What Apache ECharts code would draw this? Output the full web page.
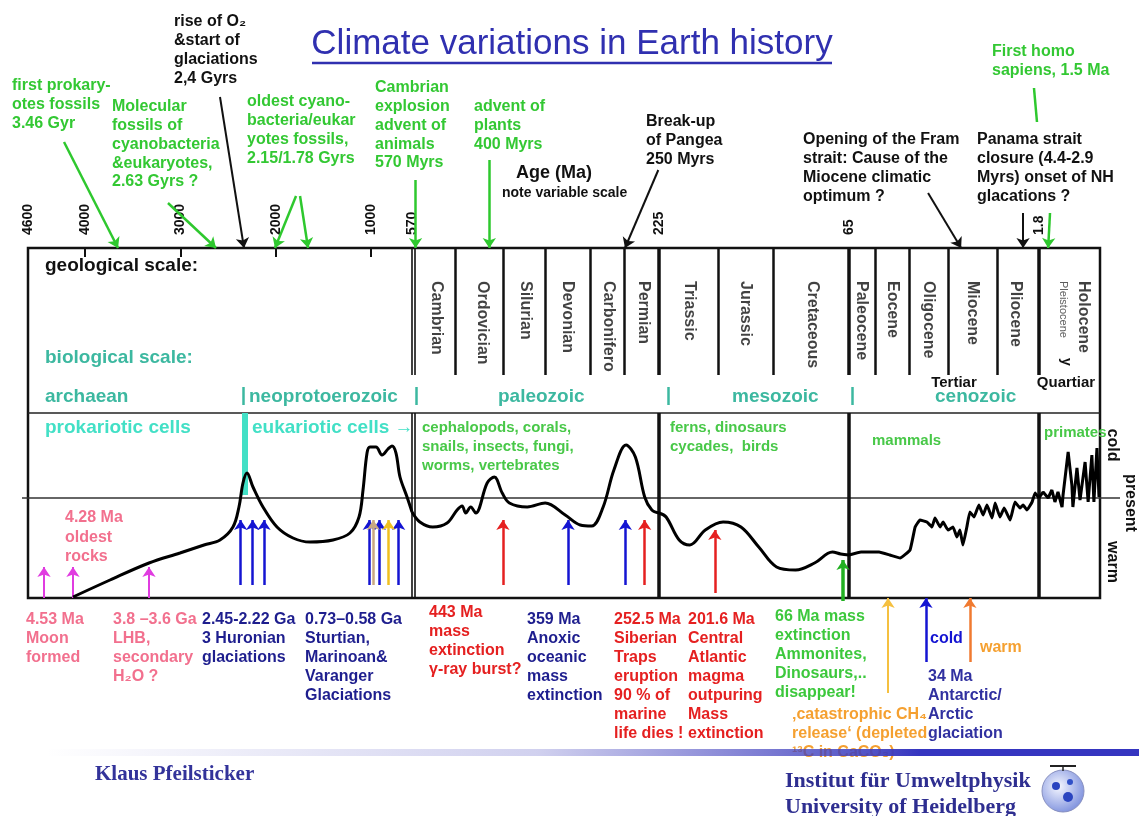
<!DOCTYPE html>
<html>
<head>
<meta charset="utf-8">
<title>Climate variations in Earth history</title>
<script src="https://cdn.jsdelivr.net/npm/echarts@6/dist/echarts.min.js"></script>
<style>
  html, body { margin: 0; padding: 0; background: #fff; }
  #chart { width: 1139px; height: 816px; }
</style>
</head>
<body>
<div id="chart"></div>
<script>
// variable age scale: one linear piece per segment (Ma, oldest -> youngest)
var segAges = [[4600, 570], [570, 225], [225, 65], [65, 1.8], [1.8, 0]];
var segTicks = [[4000, 3000, 2000, 1000], [], [], [], []];
var segTickLabels = [[4600, 4000, 3000, 2000, 1000, 570], [225], [65], [1.8], []];

// climate curve [age Ma, index]  (0 = present, + colder, - warmer)
var curvePrecambrian = [[4128, -9.9], [3739, -8.2], [3330, -6.5], [3005, -5.5], [2753, -4.7], [2585, -4.2],
  [2449, -2.9], [2386, -0.9], [2344, 1.5], [2302, 2.5], [2239, 1.1], [2134, -0.9], [1987, -2.9], [1819, -4.0],
  [1640, -4.4], [1399, -4.2], [1221, -3.5], [1126, -1.9], [1084, 0.8], [1042, 4.5], [1011, 5.1], [948, 5.1],
  [885, 4.3], [822, 4.9], [780, 5.2], [738, 4.5], [696, 2.1], [622, 0.1], [570, -1.4]];
var curvePaleozoic = [[570, -1.4], [559, -2.4], [541, -2.9], [521, -2.5], [507, -1.2], [500, -0.8], [495, -1.5],
  [488, -0.9], [481, -1.5], [465, 1.5], [455, 2.1], [444, 0.5], [434, -0.5], [409, -0.9], [384, -0.5],
  [356, -1.7], [335, -2.7], [319, -2.8], [303, -0.9], [288, 2.8], [271, 5.3], [258, 4.1], [245, 0.1],
  [235, -1.2], [225, -1.5]];
var curveMesozoic = [[225, -1.5], [219, -1.9], [208, -4.2], [199, -4.7], [186, -3.2], [171, -2.4], [156, -2.9],
  [141, -4.9], [126, -6.9], [110, -7.2], [94, -6.5], [79, -5.4], [72, -5.6], [65, -5.7]];
var curveTertiary = [[65, -5.7], [61, -5.4], [55, -5.4], [51.4, -5.7], [48, -6.0], [44.7, -5.2], [43, -2.9],
  [41.4, -2.2], [39.1, -2.4], [37.4, -2.9], [36.4, -2.0], [34.7, -2.9], [33.7, -2.4], [32.1, -3.2], [30.4, -2.9],
  [29.1, -3.9], [28.1, -3.2], [27.1, -4.7], [25.8, -2.9], [24.8, -1.4], [23.4, -1.9], [21.8, -0.7], [20.4, -1.7],
  [19.1, -0.7], [17.4, -2.0], [16.4, -0.5], [14.8, -1.9], [13.4, -1.0], [11.4, -2.2], [9.8, -0.4], [8.1, -1.0],
  [7.1, -0.7], [5.8, -1.2], [4.1, -0.4], [3.1, 0.5], [1.8, 0.0]];
var curveQuaternary = [[1.8, 0.0], [1.68, 0.6], [1.53, 0.0], [1.42, 0.8], [1.33, -0.4], [1.24, 0.6], [1.12, -0.9],
  [1.09, 0.3], [0.94, 4.6], [0.83, 1.3], [0.80, -0.9], [0.68, 3.0], [0.59, -0.2], [0.44, 3.6], [0.35, -0.4],
  [0.24, 4.3], [0.18, -0.4], [0.09, 5.0], [0.03, 0.1]];

// geological periods
var periodNames = ['Cambrian', 'Ordovician', 'Silurian', 'Devonian', 'Carboniferous', 'Permian', 'Triassic',
  'Jurassic', 'Cretaceous', 'Paleocene', 'Eocene', 'Oligocene', 'Miocene', 'Pliocene', 'Pleistocene', 'Holocene'];
var periodMidAges = [536, 472, 412, 353, 296, 247, 199, 152, 96, 61, 50.7, 38.7, 24.1, 9.8, 1.09, 0.5];
var periodBounds = [510, 443, 384, 321, 273, 175, 129, 56.4, 45, 32.1, 15.8];
var doubleBounds = [570, 566];
var thickBounds = [225, 65, 1.8];
var eraBounds = [2344, 564, 217, 64];
var eukaryoteAges = [2323];

// event arrows (Ma)
var moonLhbAges = [4432, 4128, 3330];
var huronianAges = [2368, 2242, 2123];
var snowballBlueAges = [1018, 913, 710];
var snowballTanAges = [976];
var snowballYellowAges = [815];
var paleozoicRedAges = [443, 245];
var paleozoicBlueAges = [352, 272];
var triassicRedAges = [178];
var kpgAges = [70];
var ch4Ages = [52];
var coldAges = [39.4];
var warmAges = [24.8];

// callout arrows from the notes down to the age axis [tail age, tail level, head age, head level]
var calloutsGreen = [[4222, 35.6, 3655, 25], [3131, 29.5, 2627, 25], [1787, 30.2, 2008, 25], [1745, 30.2, 1661, 25],
  [565, 31.8, 565, 25], [462, 33.8, 462, 25], [1.475, 28.5, 1.53, 25]];
var calloutsBlack = [[2585, 40.1, 2333, 25], [226, 32.8, 272.5, 25], [38.7, 30.5, 27.7, 25], [7.1, 28.5, 7.1, 25]];
var homoLine = [[3.47, 41, 2.47, 37.6]];

var FONT = '"Liberation Sans", Arial, sans-serif';
var SERIF = '"Liberation Serif", "Times New Roman", serif';
var GREEN = '#33c833', TEAL = '#3cb8a0', TURQ = '#42e0c6', PINK = '#f2708e', NAVY = '#1e1e8e';
var RED = '#e52020', ORANGE = '#f5a030', BLUE = '#1414d2', MAGENTA = '#e03ce0';

var segLeft = [28, 412, 659, 849, 1039];
var segRight = [412, 659, 849, 1039, 1100];
var curves = [curvePrecambrian, curvePaleozoic, curveMesozoic, curveTertiary, curveQuaternary];
var smoothness = [0.35, 0.35, 0.35, 0.1, false];

function segOf(age) {
  for (var i = 0; i < segAges.length; i++) {
    if (age <= segAges[i][0] && age >= segAges[i][1]) return i;
  }
  return segAges.length - 1;
}

var lines = [[], [], [], [], []];
function addLine(a1, v1, a2, v2, color, width, arrow) {
  lines[segOf(a2)].push([
    { coord: [a1, v1], symbol: 'none' },
    { coord: [a2, v2], symbol: arrow ? 'arrow' : 'none', lineStyle: { color: color, width: width, type: 'solid' } }
  ]);
}
function arrows(ages, from, to, color, width) {
  ages.forEach(function (a) { addLine(a, from, a, to, color, width, true); });
}

var TOP = 25, GEO_BOTTOM = 12.3, ERA_LINE = 8.5, BOTTOM = -10;
periodBounds.forEach(function (a) { addLine(a, TOP, a, GEO_BOTTOM, '#111', 2.5); });
doubleBounds.forEach(function (a) {
  addLine(a, TOP, a, GEO_BOTTOM, '#111', 1.6);
  addLine(a, ERA_LINE, a, BOTTOM, '#111', 1.6);
});
thickBounds.forEach(function (a) {
  addLine(a, TOP, a, GEO_BOTTOM, '#111', 3.5);
  addLine(a, ERA_LINE, a, BOTTOM, '#111', 3.5);
});
eraBounds.forEach(function (a) { addLine(a, 11.1, a, 9.3, TEAL, 2.5); });
eukaryoteAges.forEach(function (a) { addLine(a, ERA_LINE, a, 0.3, TURQ, 6); });

arrows(moonLhbAges, BOTTOM, -6.9, MAGENTA, 2);
arrows(huronianAges, -8.7, -2.2, BLUE, 2.5);
arrows(snowballBlueAges, -8.7, -2.2, BLUE, 2.5);
arrows(snowballTanAges, -8.7, -2.2, '#c8a882', 2.5);
arrows(snowballYellowAges, -8.7, -2.2, '#f0c020', 2.5);
arrows(paleozoicRedAges, -8.7, -2.2, RED, 2.5);
arrows(paleozoicBlueAges, -8.7, -2.2, BLUE, 2.5);
arrows(triassicRedAges, -9.5, -3.2, RED, 2.5);
arrows(kpgAges, -10.3, -6.2, '#22b022', 3.5);
arrows(ch4Ages, -19.5, BOTTOM, '#f5c040', 2);
arrows(coldAges, -16.4, BOTTOM, BLUE, 2.5);
arrows(warmAges, -16.4, BOTTOM, '#f07a30', 2.5);

calloutsGreen.forEach(function (c) { addLine(c[0], c[1], c[2], c[3], '#2ec82e', 2.5, true); });
calloutsBlack.forEach(function (c) { addLine(c[0], c[1], c[2], c[3], '#111', 2, true); });
homoLine.forEach(function (c) { addLine(c[0], c[1], c[2], c[3], '#2ec82e', 2.5, false); });

var grids = [], xAxes = [], yAxes = [], series = [];
var n = segAges.length;
// grids 0..4 carry the age axis on top of the frame
for (var i = 0; i < n; i++) {
  grids.push({ left: segLeft[i], width: segRight[i] - segLeft[i], top: 248, height: 350, outerBoundsMode: 'none' });
  xAxes.push({
    gridIndex: i, type: 'value', inverse: true, position: 'top',
    min: segAges[i][1], max: segAges[i][0],
    axisLine: { show: false, onZero: false }, splitLine: { show: false },
    axisTick: { show: segTicks[i].length > 0, inside: true, length: 9, customValues: segTicks[i],
      lineStyle: { color: '#111', width: 2 } },
    axisLabel: { show: segTickLabels[i].length > 0, customValues: segTickLabels[i], rotate: -90, margin: 13,
      fontSize: 14, fontWeight: 'bold', color: '#111', fontFamily: FONT,
      formatter: function (v) { return String(v); } }
  });
  yAxes.push({ gridIndex: i, type: 'value', min: 0, max: 1, show: false });
}
// grids 5..9 hold the data over the full height (10 px per index unit, 0 = present line)
for (var j = 0; j < n; j++) {
  var g = n + j;
  grids.push({ left: segLeft[j], width: segRight[j] - segLeft[j], top: 0, height: 708, outerBoundsMode: 'none' });
  xAxes.push({ gridIndex: g, type: 'value', inverse: true, min: segAges[j][1], max: segAges[j][0], show: false });
  yAxes.push({ gridIndex: g, type: 'value', min: -21, max: 49.8, show: false });
  series.push({
    type: 'line', xAxisIndex: g, yAxisIndex: g, data: curves[j], showSymbol: false,
    smooth: smoothness[j], clip: false, z: 5,
    lineStyle: { color: '#000', width: 3 },
    markLine: { silent: true, symbol: ['none', 'arrow'], symbolSize: 10, label: { show: false },
      lineStyle: { type: 'solid' }, animation: false, data: lines[j] }
  });
  var labels = [];
  periodNames.forEach(function (name, k) {
    if (segOf(periodMidAges[k]) !== j) return;
    var item = { value: [periodMidAges[k], 21.7], name: name };
    if (name === 'Pleistocene') item.label = { fontSize: 11, fontWeight: 'normal', color: '#333' };
    labels.push(item);
  });
  series.push({
    type: 'scatter', xAxisIndex: g, yAxisIndex: g, data: labels, symbolSize: 1, clip: false, silent: true,
    itemStyle: { color: 'rgba(0,0,0,0)' },
    label: { show: true, position: 'inside', rotate: -90, align: 'left', verticalAlign: 'middle',
      formatter: '{b}', fontSize: 16, fontWeight: 'bold', color: '#111', fontFamily: FONT,
      width: 96, overflow: 'truncate', ellipsis: '' }
  });
}

function note(x, y, text, color, size, opt) {
  opt = opt || {};
  var lh = opt.lh || 18.7;
  return {
    type: 'text', x: x, y: y - lh / 2, z: 10,
    style: { text: text, fill: color, font: (opt.weight || 'bold') + ' ' + size + 'px ' + (opt.family || FONT),
      lineHeight: lh, align: opt.align || 'left', verticalAlign: 'top' }
  };
}
function vnote(x, y, text, color, size, weight) {
  return {
    type: 'text', x: x, y: y, rotation: -Math.PI / 2, z: 10,
    style: { text: text, fill: color, font: (weight || 'bold') + ' ' + size + 'px ' + FONT,
      align: 'center', verticalAlign: 'middle' }
  };
}

var graphics = [
  // frame
  { type: 'rect', shape: { x: 28, y: 248, width: 1072, height: 350 }, style: { fill: 'none', stroke: '#111', lineWidth: 2.5 } },
  { type: 'line', shape: { x1: 28, y1: 413, x2: 1100, y2: 413 }, style: { stroke: '#222', lineWidth: 1.5 } },
  { type: 'line', shape: { x1: 22, y1: 498, x2: 1120, y2: 498 }, style: { stroke: '#333', lineWidth: 1.5 } },
  // title
  { type: 'text', x: 572, y: 44, style: { text: 'Climate variations in Earth history', fill: '#3030b0',
    font: '35px ' + FONT, align: 'center', verticalAlign: 'middle' } },
  { type: 'line', shape: { x1: 312, y1: 63, x2: 832, y2: 63 }, style: { stroke: '#3030b0', lineWidth: 2.5 } },
  // notes above the axis
  note(12, 86, 'first prokary-\notes fossils\n3.46 Gyr', GREEN, 16),
  note(112, 107, 'Molecular\nfossils of\ncyanobacteria\n&eukaryotes,\n2.63 Gyrs ?', GREEN, 16),
  note(174, 22, 'rise of O₂\n&start of\nglaciations\n2,4 Gyrs', '#111', 16),
  note(247, 102, 'oldest cyano-\nbacteria/eukar\nyotes fossils,\n2.15/1.78 Gyrs', GREEN, 16),
  note(375, 88, 'Cambrian\nexplosion\nadvent of\nanimals\n570 Myrs', GREEN, 16),
  note(474, 107, 'advent of\nplants\n400 Myrs', GREEN, 16),
  note(516, 173, 'Age (Ma)', '#111', 18),
  note(502, 193, 'note variable scale', '#111', 14),
  note(646, 122, 'Break-up\nof Pangea\n250 Myrs', '#111', 16),
  note(803, 140, 'Opening of the Fram\nstrait: Cause of the\nMiocene climatic\noptimum ?', '#111', 16),
  note(977, 140, 'Panama strait\nclosure (4.4-2.9\nMyrs) onset of NH\nglacations ?', '#111', 16),
  note(992, 52, 'First homo\nsapiens, 1.5 Ma', GREEN, 16),
  // scale rows
  note(45, 266, 'geological scale:', '#111', 19),
  note(45, 358, 'biological scale:', TEAL, 19),
  note(45, 397, 'archaean', TEAL, 19),
  note(249, 397, 'neoprotoerozoic', TEAL, 19),
  note(498, 397, 'paleozoic', TEAL, 19),
  note(732, 397, 'mesozoic', TEAL, 19),
  note(935, 397, 'cenozoic', TEAL, 19),
  note(954, 383, 'Tertiar', '#111', 15, { align: 'center' }),
  note(1066, 383, 'Quartiar', '#111', 15, { align: 'center' }),
  vnote(1066, 362, 'y', '#111', 14),
  note(45, 428, 'prokariotic cells', TURQ, 19),
  note(252, 428, 'eukariotic cells →', TURQ, 19),
  note(422, 428, 'cephalopods, corals,\nsnails, insects, fungi,\nworms, vertebrates', '#48c848', 15, { lh: 19 }),
  note(670, 428, 'ferns, dinosaurs\ncycades,  birds', '#48c848', 15, { lh: 19 }),
  note(872, 441, 'mammals', '#48c848', 15),
  note(1044, 433, 'primates', '#48c848', 15),
  note(65, 518, '4.28 Ma\noldest\nrocks', PINK, 16, { lh: 19.5 }),
  vnote(1112, 445, 'cold', '#111', 16),
  vnote(1130, 503, 'present', '#111', 16),
  vnote(1112, 562, 'warm', '#111', 16),
  // notes below the chart
  note(26, 620, '4.53 Ma\nMoon\nformed', PINK, 16, { lh: 19 }),
  note(113, 620, '3.8 –3.6 Ga\nLHB,\nsecondary\nH₂O ?', PINK, 16, { lh: 19 }),
  note(202, 620, '2.45-2.22 Ga\n3 Huronian\nglaciations', NAVY, 16, { lh: 19 }),
  note(305, 620, '0.73–0.58 Ga\nSturtian,\nMarinoan&\nVaranger\nGlaciations', NAVY, 16, { lh: 19 }),
  note(429, 613, '443 Ma\nmass\nextinction\nγ-ray burst?', RED, 16, { lh: 19 }),
  note(527, 620, '359 Ma\nAnoxic\noceanic\nmass\nextinction', NAVY, 16, { lh: 19 }),
  note(614, 620, '252.5 Ma\nSiberian\nTraps\neruption\n90 % of\nmarine\nlife dies !', RED, 16, { lh: 19 }),
  note(688, 620, '201.6 Ma\nCentral\nAtlantic\nmagma\noutpuring\nMass\nextinction', RED, 16, { lh: 19 }),
  note(775, 617, '66 Ma mass\nextinction\nAmmonites,\nDinosaurs,..\ndisappear!', '#3cc83c', 16, { lh: 19 }),
  note(792, 715, '‚catastrophic CH₄\nrelease‘ (depleted\n¹³C in CaCO₃)', ORANGE, 16, { lh: 19 }),
  note(930, 639, 'cold', BLUE, 16),
  note(980, 648, 'warm', ORANGE, 16),
  note(928, 677, '34 Ma\nAntarctic/\nArctic\nglaciation', '#3030a0', 16, { lh: 19 }),
  // footer
  { type: 'rect', z: 12, shape: { x: 45, y: 749, width: 1094, height: 7 },
    style: { fill: new echarts.graphic.LinearGradient(0, 0, 1, 0, [
      { offset: 0, color: 'rgba(70,70,190,0)' }, { offset: 0.45, color: 'rgba(70,70,190,0.25)' },
      { offset: 0.76, color: 'rgba(60,60,190,0.9)' }, { offset: 0.8, color: '#3535c0' }, { offset: 1, color: '#3535c0' }]) } },
  note(95, 775, 'Klaus Pfeilsticker', '#33339a', 21, { family: SERIF }),
  note(785, 781, 'Institut für Umweltphysik\nUniversity of Heidelberg', '#2e2e90', 22, { family: SERIF, lh: 26 }),
  { type: 'circle', shape: { cx: 1063, cy: 791, r: 21 },
    style: { fill: new echarts.graphic.RadialGradient(0.4, 0.4, 0.75, [
      { offset: 0, color: '#f4f6ff' }, { offset: 1, color: '#6a80d8' }]), stroke: '#8890c0', lineWidth: 1 } },
  { type: 'circle', shape: { cx: 1056, cy: 786, r: 4 }, style: { fill: '#2a44c0' } },
  { type: 'circle', shape: { cx: 1068, cy: 797, r: 5 }, style: { fill: '#2a44c0' } },
  { type: 'circle', shape: { cx: 1070, cy: 782, r: 3 }, style: { fill: '#3050c8' } },
  { type: 'line', shape: { x1: 1050, y1: 766, x2: 1076, y2: 766 }, style: { stroke: '#222', lineWidth: 2 } },
  { type: 'line', shape: { x1: 1063, y1: 766, x2: 1063, y2: 771 }, style: { stroke: '#222', lineWidth: 1.5 } }
];

var chart = echarts.init(document.getElementById('chart'));
chart.setOption({
  animation: false,
  backgroundColor: '#fff',
  grid: grids,
  xAxis: xAxes,
  yAxis: yAxes,
  series: series,
  graphic: { elements: graphics }
});
</script>
</body>
</html>
